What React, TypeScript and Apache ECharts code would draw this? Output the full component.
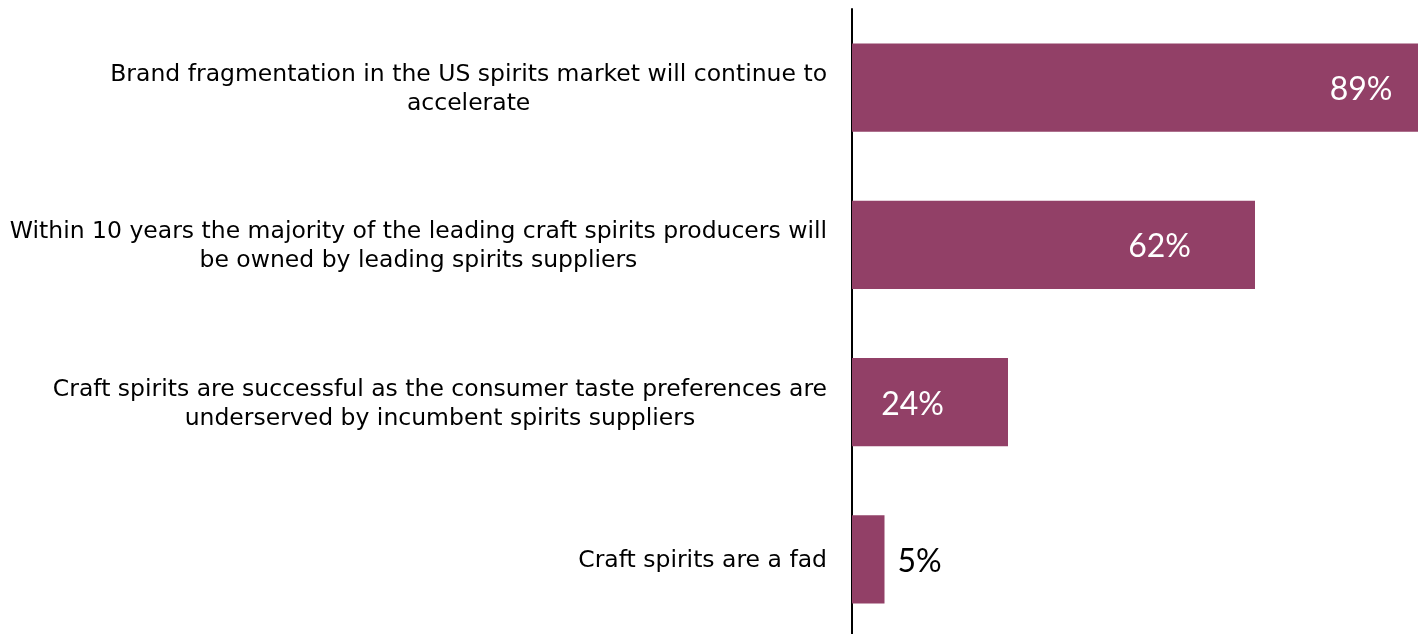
import React, { useEffect, useRef } from "react";
import * as echarts from "echarts";

const categories: string[][] = [
  ["Brand fragmentation in the US spirits market will continue to", "accelerate"],
  ["Within 10 years the majority of the leading craft spirits producers will", "be owned by leading spirits suppliers"],
  ["Craft spirits are successful as the consumer taste preferences are", "underserved by incumbent spirits suppliers"],
  ["Craft spirits are a fad"],
];
const values: number[] = [89, 62, 24, 5];

const BAR_COLOR = "#924067";
const LABEL_GAP = [38, 64, 64, 13];

export default function App() {
  const ref = useRef<HTMLDivElement>(null);
  useEffect(() => {
    if (!ref.current) return;
    const chart = echarts.init(ref.current, undefined, { renderer: "svg" });
    const catNames = categories.map((l) => l.join("\n"));
    chart.setOption({
      animation: false,
      grid: {
        left: 852,
        top: 9,
        width: 650,
        height: 629,
        containLabel: false,
        outerBoundsMode: "none",
      },
      xAxis: {
        type: "value",
        min: 0,
        max: 100,
        show: false,
        splitLine: { show: false },
      },
      yAxis: {
        type: "category",
        inverse: true,
        data: catNames,
        axisTick: { show: false },
        axisLine: { show: true, lineStyle: { color: "#000", width: 2 } },
        axisLabel: {
          margin: 25,
          color: "#000",
          fontFamily: "DejaVu Sans",
          fontSize: 23.5,
          lineHeight: 29,
          align: "right",
          formatter: (v: string) =>
            v
              .split("\n")
              .map((s) => `{c|${s}}`)
              .join("\n"),
          rich: {
            c: {
              align: "center",
              color: "#000",
              fontFamily: "DejaVu Sans",
              fontSize: 23.5,
              lineHeight: 29,
            },
          },
        },
      },
      series: [
        {
          type: "bar",
          barCategoryGap: "44%",
          itemStyle: { color: BAR_COLOR },
          data: values.map((v, i) => {
            const outside = v < 10;
            return {
              value: v,
              label: {
                show: true,
                position: outside ? "right" : "insideRight",
                distance: outside ? LABEL_GAP[i] : 0,
                offset: outside ? [0, 0] : [-LABEL_GAP[i], 0],
                color: outside ? "#000" : "#fff",
                fontFamily: "Lato",
                fontSize: 32,
                formatter: "{c}%",
              },
            };
          }),
        },
      ],
    });
    return () => chart.dispose();
  }, []);
  return (
    <div
      ref={ref}
      style={{ position: "fixed", left: 0, top: 0, width: 1418, height: 634 }}
    />
  );
}
